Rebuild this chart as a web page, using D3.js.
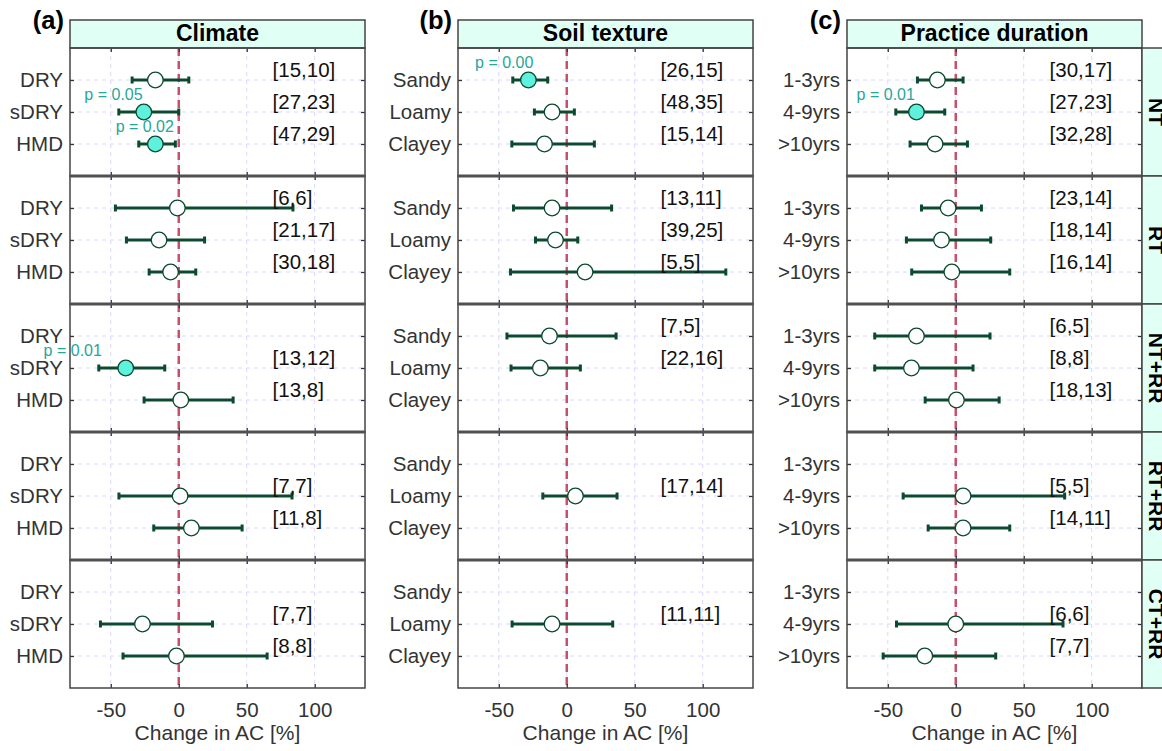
<!DOCTYPE html>
<html>
<head>
<meta charset="utf-8">
<script src="https://cdn.jsdelivr.net/npm/d3@7"></script>
<style>
    body { margin: 0; background: #fff; }
    text { font-family: "Liberation Sans", Arial, sans-serif; }
</style>
</head>
<body>
<svg id="chart" width="1162" height="751"></svg>
<script>
//
// change in AC by climate / soil texture / practice duration, faceted by tillage practice
//

const practices = ['NT', 'RT', 'NT+RR', 'RT+RR', 'CT+RR'];
const climateLevels = ['DRY', 'sDRY', 'HMD'];
const soilLevels = ['Sandy', 'Loamy', 'Clayey'];
const durationLevels = ['1-3yrs', '4-9yrs', '>10yrs'];
const xTicks = [-50, 0, 50, 100];

// rows = practice, cols = level (null = no observations)
const climateMean = [[-17.2, -25.7, -17.2], [-1, -14.5, -6], [null, -39, 1.5], [null, 1, 9.3], [null, -26.7, -1.7]];
const climateLow = [[-34.3, -44.1, -29.4], [-46.6, -38.5, -21.8], [null, -58.8, -25.5], [null, -44, -18.4], [null, -57.6, -41]];
const climateHigh = [[7.4, 0, -2.5], [84, 19, 12.5], [null, -10.3, 40], [null, 83.3, 46.6], [null, 24.8, 65]];
const climateN = [['[15,10]', '[27,23]', '[47,29]'], ['[6,6]', '[21,17]', '[30,18]'], [null, '[13,12]', '[13,8]'], [null, '[7,7]', '[11,8]'], [null, '[7,7]', '[8,8]']];
// significant groups: [practice, level, p]
const climateP = [['NT', 'sDRY', 0.05], ['NT', 'HMD', 0.02], ['NT+RR', 'sDRY', 0.01]];
const climatePX = [-48, -25, -78];

const soilMean = [[-28.2, -10.8, -16.4], [-10.8, -8.3, 13.5], [-12.7, -19.4, null], [null, 6.4, null], [null, -10.8, null]];
const soilLow = [[-39.7, -23.8, -40.4], [-39.2, -23, -41.4], [-44, -41, null], [null, -17.6, null], [null, -40.2, null]];
const soilHigh = [[-14, 5.6, 20.3], [33, 8.1, 117], [36.3, 10, null], [null, 37, null], [null, 33.8, null]];
const soilN = [['[26,15]', '[48,35]', '[15,14]'], ['[13,11]', '[39,25]', '[5,5]'], ['[7,5]', '[22,16]', null], [null, '[17,14]', null], [null, '[11,11]', null]];
const soilP = [['NT', 'Sandy', 0.00]];
const soilPX = [-46];

const durationMean = [[-13.5, -28.9, -15.2], [-5.6, -10.5, -2.9], [-28.9, -32.6, 0.5], [null, 5.4, 5.4], [null, 0, -22.8]];
const durationLow = [[-28.2, -44.1, -33.6], [-25.2, -36.3, -32.4], [-59.6, -59.6, -22.5], [null, -38.7, -20.3], [null, -43.6, -53.4]];
const durationHigh = [[5.4, -8.1, 8.6], [18.9, 25.7, 39.7], [25.2, 12.7, 31.9], [null, 80.1, 39.7], [null, 78.9, 29.4]];
const durationN = [['[30,17]', '[27,23]', '[32,28]'], ['[23,14]', '[18,14]', '[16,14]'], ['[6,5]', '[8,8]', '[18,13]'], [null, '[5,5]', '[14,11]'], [null, '[6,6]', '[7,7]']];
const durationP = [['NT', '4-9yrs', 0.01]];
const durationPX = [-51.5];

const panels = [
    {tag: '(a)', title: 'Climate', levels: climateLevels, mean: climateMean, low: climateLow, high: climateHigh, n: climateN, p: climateP, px: climatePX},
    {tag: '(b)', title: 'Soil texture', levels: soilLevels, mean: soilMean, low: soilLow, high: soilHigh, n: soilN, p: soilP, px: soilPX},
    {tag: '(c)', title: 'Practice duration', levels: durationLevels, mean: durationMean, low: durationLow, high: durationHigh, n: durationN, p: durationP, px: durationPX},
];

// colours
const darkGreen = '#0B4A2F';
const sigFill = '#5EF1DE';
const pColor = '#26A69A';
const stripFill = '#E0FFF5';
const borderColor = '#444';
const gridColor = '#D8D8FF';
const zeroColor = '#C9506B';

// layout
const panelLeft = [70, 458, 847];
const panelWidth = 295;
const stripTop = 20;
const stripH = 28;
const facetTop = 48;
const facetH = 128;
const nLabelX = 69;
const tickFont = 20.5;

const svg = d3.select('#chart');
svg.append('rect').attr('width', 1162).attr('height', 751).attr('fill', '#fff');

const x = d3.scaleLinear().domain([-80, 137]).range([0, panelWidth]);

function styleAxis(g, size) {
    g.select('.domain').remove();
    g.selectAll('.tick line').attr('stroke', '#333').attr('stroke-width', 1.3);
    g.selectAll('.tick text')
        .attr('fill', '#333')
        .style('font-size', size + 'px')
        .style('font-family', '"Liberation Sans", Arial, sans-serif');
}

panels.forEach(function (panel, i) {
    const g = svg.append('g').attr('transform', `translate(${panelLeft[i]}, 0)`);

    // strip on top
    g.append('rect')
        .attr('x', 0).attr('y', stripTop)
        .attr('width', panelWidth).attr('height', stripH)
        .attr('fill', stripFill).attr('stroke', borderColor).attr('stroke-width', 1.5);
    g.append('text')
        .attr('x', panelWidth / 2).attr('y', stripTop + 20.5)
        .attr('text-anchor', 'middle')
        .style('font-size', '23px').style('font-weight', 'bold')
        .attr('fill', '#000')
        .text(panel.title);

    // panel tag
    g.append('text')
        .attr('x', -6).attr('y', 28.5)
        .attr('text-anchor', 'end')
        .style('font-size', '25.5px').style('font-weight', 'bold')
        .attr('fill', '#000')
        .text(panel.tag);

    practices.forEach(function (practice, j) {
        const top = facetTop + j * facetH;
        const y = d3.scalePoint().domain(panel.levels).range([top, top + facetH]).padding(1);
        const fg = g.append('g');

        // grid
        fg.selectAll('.hgrid').data(panel.levels).enter().append('line')
            .attr('x1', 0).attr('x2', panelWidth)
            .attr('y1', (d) => y(d)).attr('y2', (d) => y(d))
            .attr('stroke', gridColor).attr('stroke-width', 1).attr('stroke-dasharray', '4,4');
        fg.selectAll('.vgrid').data(xTicks).enter().append('line')
            .attr('x1', (d) => x(d)).attr('x2', (d) => x(d))
            .attr('y1', top).attr('y2', top + facetH)
            .attr('stroke', gridColor).attr('stroke-width', 1).attr('stroke-dasharray', '4,4');

        // zero line
        fg.append('line')
            .attr('x1', x(0)).attr('x2', x(0))
            .attr('y1', top).attr('y2', top + facetH)
            .attr('stroke', zeroColor).attr('stroke-width', 2.5).attr('stroke-dasharray', '8,5');

        const sig = {};
        panel.p.forEach(function (s, k) {
            if (s[0] === practice) sig[s[1]] = {p: s[2], x: panel.px[k]};
        });

        const rows = panel.levels.map(function (lvl, k) {
            return {
                level: lvl, mean: panel.mean[j][k], low: panel.low[j][k], high: panel.high[j][k],
                n: panel.n[j][k], sig: sig[lvl]
            };
        });
        const obs = rows.filter((r) => r.mean !== null);

        // error bars
        fg.selectAll('.bar').data(obs).enter().append('line')
            .attr('x1', (d) => x(d.low)).attr('x2', (d) => x(d.high))
            .attr('y1', (d) => y(d.level)).attr('y2', (d) => y(d.level))
            .attr('stroke', darkGreen).attr('stroke-width', 3);
        ['low', 'high'].forEach(function (end) {
            fg.selectAll('.cap-' + end).data(obs).enter().append('line')
                .attr('x1', (d) => x(d[end])).attr('x2', (d) => x(d[end]))
                .attr('y1', (d) => y(d.level) - 3.5).attr('y2', (d) => y(d.level) + 3.5)
                .attr('stroke', darkGreen).attr('stroke-width', 3);
        });

        // means
        fg.selectAll('.pt').data(obs).enter().append('circle')
            .attr('cx', (d) => x(d.mean)).attr('cy', (d) => y(d.level))
            .attr('r', 7.8)
            .attr('fill', (d) => d.sig ? sigFill : '#fff')
            .attr('stroke', darkGreen).attr('stroke-width', 1.3);

        // sample sizes
        fg.selectAll('.nlab').data(rows.filter((r) => r.n !== null)).enter().append('text')
            .attr('x', x(nLabelX)).attr('y', (d) => y(d.level) - 3)
            .style('font-size', '20.5px')
            .attr('fill', '#111')
            .text((d) => d.n);

        // p values
        fg.selectAll('.plab').data(obs.filter((r) => r.sig)).enter().append('text')
            .attr('x', (d) => x(d.sig.x)).attr('y', (d) => y(d.level) - 12.5)
            .attr('text-anchor', 'middle')
            .style('font-size', '16px')
            .attr('fill', pColor)
            .text((d) => 'p = ' + d.sig.p.toFixed(2));

        // axes with inward ticks
        const left = fg.append('g').call(d3.axisLeft(y).tickSize(-4).tickPadding(7));
        styleAxis(left, tickFont);
        const right = fg.append('g').attr('transform', `translate(${panelWidth}, 0)`)
            .call(d3.axisRight(y).tickSize(-4).tickFormat(''));
        styleAxis(right, tickFont);
        const topAx = fg.append('g').attr('transform', `translate(0, ${top})`)
            .call(d3.axisTop(x).tickValues(xTicks).tickSize(-4).tickFormat(''));
        styleAxis(topAx, tickFont);
        const isLast = j === practices.length - 1;
        const bottom = fg.append('g').attr('transform', `translate(0, ${top + facetH})`)
            .call(d3.axisBottom(x).tickValues(xTicks).tickSize(-4).tickPadding(14.5)
                .tickFormat((d) => isLast ? String(d) : ''));
        styleAxis(bottom, tickFont);

        // border
        fg.append('rect')
            .attr('x', 0).attr('y', top)
            .attr('width', panelWidth).attr('height', facetH)
            .attr('fill', 'none').attr('stroke', borderColor).attr('stroke-width', 1.5);
        if (j > 0) {
            fg.append('line')
                .attr('x1', 0).attr('x2', panelWidth)
                .attr('y1', top).attr('y2', top)
                .attr('stroke', '#505050').attr('stroke-width', 3.2);
        }

        // practice strip on the right of last panel
        if (i === panels.length - 1) {
            fg.append('rect')
                .attr('x', panelWidth).attr('y', top)
                .attr('width', 28).attr('height', facetH)
                .attr('fill', stripFill).attr('stroke', borderColor).attr('stroke-width', 1.5);
            fg.append('text')
                .attr('transform', `translate(${panelWidth + 14}, ${top + facetH / 2}) rotate(90)`)
                .attr('text-anchor', 'middle')
                .attr('dy', '0.35em')
                .style('font-size', '21px').style('font-weight', 'bold')
                .attr('fill', '#000')
                .text(practice);
        }
    });

    // x axis title
    g.append('text')
        .attr('x', panelWidth / 2).attr('y', 740)
        .attr('text-anchor', 'middle')
        .style('font-size', '21px')
        .attr('fill', '#333')
        .text('Change in AC [%]');
});
</script>
</body>
</html>
